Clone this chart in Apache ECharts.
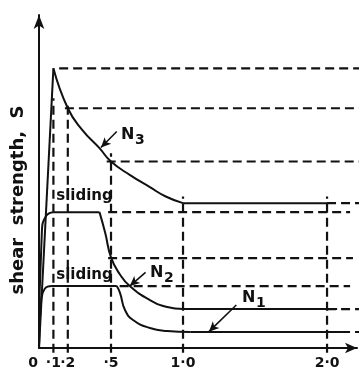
<!DOCTYPE html>
<html>
<head>
<meta charset="utf-8">
<script src="https://cdn.jsdelivr.net/npm/echarts@6/dist/echarts.min.js"></script>
<style>
  html, body { margin: 0; padding: 0; background: #fff; }
  #chart { width: 361px; height: 369px; }
</style>
</head>
<body>
<div id="chart"></div>
<script>
// Displacement axis: tick positions and their printed labels
const xTicks = [0, 0.1, 0.2, 0.5, 1.0, 2.0];
const xTickLabels = ['0', '·1', '·2', '·5', '1·0', '2·0'];

// N3: brittle peak, decay, residual
const n3Rise = [[0, 0], [0.1, 8.4]];
const n3Decay = [[0.1, 8.4], [0.2, 7.2], [0.3, 6.55], [0.42, 6.0], [0.5, 5.6], [0.63, 5.2], [0.77, 4.83], [0.88, 4.55], [1.0, 4.35]];
const n3Residual = [[1.0, 4.35], [2.0, 4.35]];

// N2: sliding plateau, drop, residual
const n2Rise = [[0, 0], [0.02, 3.5], [0.05, 3.97], [0.1, 4.08]];
const n2Sliding = [[0.1, 4.08], [0.42, 4.08]];
const n2Drop = [[0.42, 4.08], [0.46, 3.45], [0.5, 2.72], [0.56, 2.22], [0.63, 1.86], [0.77, 1.44], [0.89, 1.23], [1.0, 1.17]];
const n2Residual = [[1.0, 1.17], [2.07, 1.17]];

// N1: sliding plateau, drop, residual
const n1Rise = [[0, 0], [0.015, 1.4], [0.04, 1.78], [0.09, 1.86]];
const n1Sliding = [[0.09, 1.86], [0.54, 1.86]];
const n1Drop = [[0.54, 1.86], [0.563, 1.65], [0.597, 1.14], [0.653, 0.84], [0.77, 0.6], [0.89, 0.51], [1.05, 0.48]];
const n1Residual = [[1.05, 0.48], [2.1, 0.48]];

// Horizontal projection lines: [level, from x, to x]
const levelLines = [
  [8.4, 0.14, 2.236], [7.2, 0.18, 2.236], [5.6, 0.47, 2.236], [4.35, 2.0, 2.236],
  [4.08, 0.48, 2.16], [2.7, 0.48, 2.18], [1.86, 0.56, 2.16], [1.17, 2.0, 2.236], [0.48, 2.0, 2.236]
];
// Vertical projection lines: [x, top]
const dropLines = [[0.1, 7.5], [0.2, 7.35], [0.5, 5.85], [1.0, 4.55], [2.0, 4.55]];

// Curve names with label anchor and pointer arrow (tail -> head)
const curveNames = ['N3', 'N2', 'N1'];
const curveNotes = [
  { at: [0.57, 6.4], tail: [0.54, 6.5], head: [0.43, 6.02] },
  { at: [0.77, 2.25], tail: [0.74, 2.27], head: [0.63, 1.86] },
  { at: [1.41, 1.5], tail: [1.37, 1.29], head: [1.18, 0.49] }
];
const slidingNotes = [[0.12, 4.55], [0.12, 2.2]];

const INK = '#111111';
const FONT = '"DejaVu Sans"';

function solid(data, smooth) {
  return {
    type: 'line', data: data, symbol: 'none', silent: true, clip: false,
    smooth: smooth ? 0.5 : false,
    lineStyle: { color: INK, width: 2 }, z: 4
  };
}
function dashed(data) {
  return {
    type: 'line', data: data, symbol: 'none', silent: true, clip: false,
    lineStyle: { color: INK, width: 2.2, type: [9, 5] }, z: 3
  };
}

const series = [];
levelLines.forEach(function (l) { series.push(dashed([[l[1], l[0]], [l[2], l[0]]])); });
dropLines.forEach(function (d) { series.push(dashed([[d[0], -0.14], [d[0], d[1]]])); });

series.push(solid(n3Rise, false), solid(n3Decay, true), solid(n3Residual, false));
series.push(solid(n2Rise, true), solid(n2Sliding, false), solid(n2Drop, true), solid(n2Residual, false));
series.push(solid(n1Rise, true), solid(n1Sliding, false), solid(n1Drop, true), solid(n1Residual, false));

// Pointer arrows from the curve names to their curves
series.push({
  type: 'line', data: [], silent: true,
  markLine: {
    silent: true, symbol: ['none', 'arrow'], symbolSize: [7, 10], label: { show: false },
    lineStyle: { color: INK, width: 1.6, type: 'solid' },
    data: curveNotes.map(function (n) { return [{ coord: n.tail }, { coord: n.head }]; })
  }
});

const chart = echarts.init(document.getElementById('chart'), null, { renderer: 'canvas' });
chart.setOption({
  backgroundColor: '#ffffff',
  animation: false,
  grid: { left: 39, right: 4, top: 15, bottom: 21 },
  xAxis: {
    type: 'value', min: 0, max: 2.208,
    splitLine: { show: false }, axisTick: { show: false }, axisLabel: { show: false },
    axisLine: { show: true, symbol: ['none', 'arrow'], symbolSize: [8, 12], lineStyle: { color: INK, width: 2 } }
  },
  yAxis: {
    type: 'value', min: 0, max: 10,
    splitLine: { show: false }, axisTick: { show: false }, axisLabel: { show: false },
    axisLine: { show: true, symbol: ['none', 'arrow'], symbolSize: [8, 14], lineStyle: { color: INK, width: 2 } }
  },
  series: series
});

// Text placed at data coordinates through the grid's own scales
function toPx(p) { return chart.convertToPixel({ gridIndex: 0 }, p); }
const texts = [];

texts.push({
  type: 'text', x: 18, y: 200, rotation: Math.PI / 2, z: 10,
  style: {
    text: 'shear  strength,  S', fill: INK, font: 'bold 18px ' + FONT,
    textAlign: 'center', textVerticalAlign: 'middle'
  }
});

xTicks.forEach(function (v, i) {
  const p = toPx([v, 0]);
  texts.push({
    type: 'text', x: p[0] + (i === 0 ? -6 : 0), y: p[1] + 8, z: 10,
    style: { text: xTickLabels[i], fill: INK, font: 'bold 14px ' + FONT, textAlign: 'center', textVerticalAlign: 'top' }
  });
});

slidingNotes.forEach(function (s) {
  const p = toPx(s);
  texts.push({
    type: 'text', x: p[0], y: p[1], z: 10,
    style: { text: 'sliding', fill: INK, font: 'bold 15px ' + FONT, textAlign: 'left', textVerticalAlign: 'middle' }
  });
});

curveNotes.forEach(function (n, i) {
  const p = toPx(n.at);
  texts.push({
    type: 'text', x: p[0], y: p[1], z: 10,
    style: { text: 'N', fill: INK, font: 'bold 16px ' + FONT, textAlign: 'left', textVerticalAlign: 'middle' }
  });
  texts.push({
    type: 'text', x: p[0] + 14, y: p[1] + 5, z: 10,
    style: { text: curveNames[i].slice(1), fill: INK, font: 'bold 14px ' + FONT, textAlign: 'left', textVerticalAlign: 'middle' }
  });
});

chart.setOption({ graphic: texts });
</script>
</body>
</html>
